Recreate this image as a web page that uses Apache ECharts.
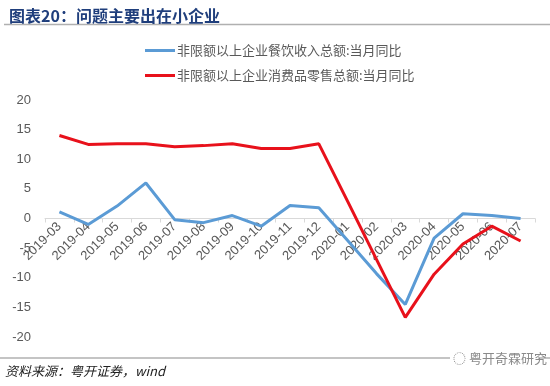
<!DOCTYPE html>
<html><head><meta charset="utf-8">
<script src="https://cdn.jsdelivr.net/npm/echarts@6/dist/echarts.min.js"></script>
<style>html,body{margin:0;padding:0;background:#fff}#c{width:550px;height:386px}</style>
</head><body><div id="c"></div>
<script>
const categories = ['2019-03','2019-04','2019-05','2019-06','2019-07','2019-08','2019-09','2019-10','2019-11','2019-12','2020-01','2020-02','2020-03','2020-04','2020-05','2020-06','2020-07'];
const cateringName = '非限额以上企业餐饮收入总额:当月同比';
const retailName = '非限额以上企业消费品零售总额:当月同比';
const cateringValues = [1.1,-1.0,2.1,6.0,-0.2,-0.7,0.5,-1.3,2.2,1.8,-3.7,-9.3,-14.5,-3.3,0.8,0.5,0.0];
const retailValues = [14.0,12.5,12.6,12.6,12.1,12.3,12.6,11.8,11.8,12.6,2.9,-6.9,-16.7,-9.4,-4.3,-1.3,-3.8];
const yTicks = {min:-20, max:20, interval:5};

const chart = echarts.init(document.getElementById('c'), null, {renderer:'canvas'});
const font = '"Noto Sans CJK SC", "Microsoft YaHei", sans-serif';
const gridTop = 100, gridBottom = 49;
const plotH = 386 - gridTop - gridBottom;
const zeroOffset = -plotH * (0 - yTicks.min) / (yTicks.max - yTicks.min);
chart.setOption({
  animation:false,
  backgroundColor:'#fff',
  title:{
    text:'图表20：问题主要出在小企业',
    left:4, top:3,
    textStyle:{fontSize:16, fontWeight:'bold', color:'#1f3e7c', fontFamily:font}
  },
  graphic:[
    {type:'line', shape:{x1:4,y1:24.5,x2:550,y2:24.5}, style:{stroke:'#b0b0b0', lineWidth:1.5}},
    {type:'line', shape:{x1:0,y1:358,x2:550,y2:358}, style:{stroke:'#b0b0b0', lineWidth:1.5}},
    {type:'rect', shape:{x:450,y:352,width:88,height:14}, style:{fill:'#fff'}},
    {type:'text', x:453, y:352, style:{text:'◌ 粤开奇霖研究', fontSize:13, fill:'#8a8a8a', fontFamily:font}},
    {type:'text', x:5, y:365, style:{text:'资料来源：粤开证券，wind', fontSize:13, fontStyle:'italic', fill:'#222', fontFamily:font}}
  ],
  legend:{
    orient:'vertical', left:140, top:39, itemGap:12,
    itemWidth:30, itemHeight:3, icon:'rect',
    textStyle:{fontSize:13, color:'#595959', fontFamily:font, padding:[0,0,0,-3]},
    data:[cateringName, retailName]
  },
  grid:{left:45, right:15, top:gridTop, bottom:gridBottom},
  xAxis:{
    type:'category', data:categories, boundaryGap:true, position:'bottom', offset:zeroOffset,
    axisLine:{onZero:false, lineStyle:{color:'#d9d9d9', width:1}},
    axisTick:{show:true, length:4, lineStyle:{color:'#d9d9d9'}},
    axisLabel:{rotate:45, fontSize:13, color:'#595959', fontFamily:'"Liberation Sans", Arial, sans-serif', margin:6}
  },
  yAxis:{
    type:'value', min:yTicks.min, max:yTicks.max, interval:yTicks.interval,
    axisLine:{show:false}, axisTick:{show:false}, splitLine:{show:false},
    axisLabel:{fontSize:13, color:'#595959', fontFamily:'"Liberation Sans", Arial, sans-serif', margin:14}
  },
  series:[
    {name:cateringName, type:'line', data:cateringValues, symbol:'none', lineStyle:{width:3, color:'#5b9bd5'}, itemStyle:{color:'#5b9bd5'}},
    {name:retailName, type:'line', data:retailValues, symbol:'none', lineStyle:{width:3, color:'#e8111b'}, itemStyle:{color:'#e8111b'}}
  ]
});
</script></body></html>
